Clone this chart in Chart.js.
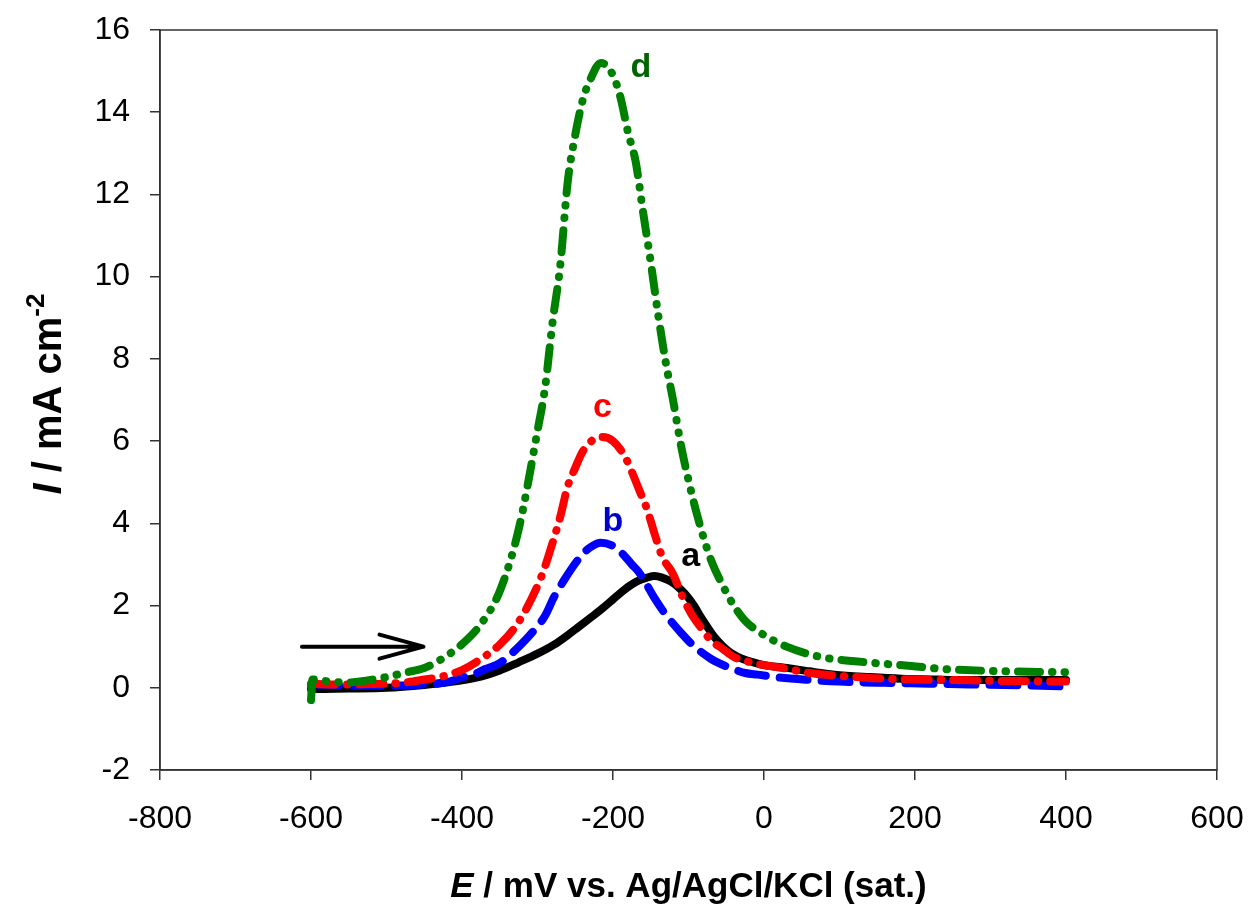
<!DOCTYPE html>
<html>
<head>
<meta charset="utf-8">
<script src="https://cdn.jsdelivr.net/npm/chart.js@4/dist/chart.umd.min.js"></script>
<style>
html,body{margin:0;padding:0;background:#fff;}
#wrap{width:1249px;height:910px;position:relative;}
</style>
</head>
<body>
<div id="wrap"><canvas id="c" width="1249" height="910"></canvas></div>
<script>
// ---- data (E / mV, I / mA cm^-2) ----
const aE = [-600,-550,-500,-450,-425,-400,-375,-350,-325,-300,-278,-260,-247,-230,-216,-200,-190,-178,-167,-155,-145,-135,-123,-112,-101,-92,-84,-75,-66,-55,-44,-31,-13,0,27,60,93,140,182,230,271,340,400];
const aI = [-0.03,-0.02,0.0,0.07,0.12,0.18,0.27,0.42,0.62,0.83,1.05,1.28,1.46,1.7,1.9,2.15,2.31,2.48,2.6,2.68,2.72,2.68,2.58,2.42,2.21,1.98,1.73,1.48,1.24,1.02,0.85,0.72,0.61,0.55,0.49,0.4,0.32,0.26,0.22,0.2,0.19,0.19,0.19];

const bE = [-600,-550,-500,-450,-425,-410,-400,-385,-370,-350,-322,-300,-290,-278,-263,-243,-230,-216,-200,-190,-175,-166,-155,-146,-133,-120,-110,-95,-84,-70,-61,-40,-25,-8,20,62,100,159,220,271,340,400];
const bI = [0.08,0.06,0.05,0.08,0.12,0.19,0.25,0.32,0.45,0.6,1.05,1.5,1.75,2.21,2.67,3.19,3.42,3.53,3.45,3.31,3.0,2.82,2.5,2.21,1.85,1.55,1.34,1.05,0.88,0.7,0.61,0.45,0.36,0.32,0.25,0.19,0.15,0.12,0.1,0.08,0.06,0.03];

const cE = [-600,-575,-550,-525,-500,-475,-450,-425,-400,-375,-350,-325,-300,-290,-280,-270,-260,-250,-240,-225,-214,-200,-185,-175,-165,-155,-145,-135,-120,-110,-97,-85,-70,-55,-40,-20,0,25,60,100,140,200,250,300,350,400];
const cI = [0.1,0.08,0.08,0.09,0.1,0.13,0.2,0.28,0.43,0.7,1.05,1.6,2.48,2.95,3.53,4.15,4.9,5.35,5.75,6.05,6.1,6.0,5.65,5.25,4.8,4.35,3.75,3.2,2.75,2.3,1.82,1.5,1.15,0.95,0.75,0.63,0.55,0.48,0.36,0.29,0.24,0.2,0.19,0.17,0.16,0.15];

const dE = [-600,-598,-575,-550,-525,-500,-475,-450,-425,-400,-375,-350,-325,-300,-290,-280,-270,-260,-250,-240,-230,-216,-200,-190,-180,-170,-160,-150,-140,-130,-120,-110,-100,-90,-80,-70,-55,-40,-25,-5,30,75,130,195,235,300,350,400];
const dI = [-0.3,0.2,0.15,0.13,0.18,0.26,0.37,0.48,0.72,1.06,1.55,2.35,3.85,6.25,7.3,8.9,10.25,12.3,13.45,14.3,14.8,15.2,14.9,14.35,13.5,12.8,11.55,10.35,9.05,7.9,6.95,5.9,5.05,4.3,3.65,3.1,2.5,2.0,1.63,1.34,1.0,0.75,0.63,0.53,0.46,0.41,0.39,0.38];

const xTicks = [-800,-600,-400,-200,0,200,400,600];
const yTicks = [-2,0,2,4,6,8,10,12,14,16];

const curveLabels = ["a","b","c","d"];
const labelE = [-97,-200,-214,-163];
const labelI = [3.19,4.04,6.81,15.08];
const curveColors = ["#000000","#0000ff","#ff0000","#008000"];
const labelColors = ["#000000","#0000cc","#ff0000","#006400"];

const arrowE = [-612,-451];
const arrowI = [1.0,1.0];

const FONT = "'Liberation Sans', Arial, sans-serif";

function pts(xs, ys){ return xs.map((x,i)=>({x:x,y:ys[i]})); }

const overlay = {
  id:'overlay',
  afterDraw(chart){
    const ctx = chart.ctx, xs = chart.scales.x, ys = chart.scales.y, ca = chart.chartArea;
    ctx.save();
    // frame box
    ctx.strokeStyle = '#333';
    ctx.lineWidth = 1.5;
    ctx.strokeRect(ca.left, ca.top, ca.right-ca.left, ca.bottom-ca.top);
    // curve letters
    ctx.font = "bold 34px " + FONT;
    ctx.textAlign = 'center';
    ctx.textBaseline = 'middle';
    curveLabels.forEach((t,i)=>{
      ctx.fillStyle = labelColors[i];
      ctx.fillText(t, xs.getPixelForValue(labelE[i]), ys.getPixelForValue(labelI[i]));
    });
    // arrow
    const x0 = xs.getPixelForValue(arrowE[0]), x1 = xs.getPixelForValue(arrowE[1]);
    const y0 = ys.getPixelForValue(arrowI[0]), y1 = ys.getPixelForValue(arrowI[1]);
    ctx.strokeStyle = '#000';
    ctx.lineWidth = 4;
    ctx.lineCap = 'round';
    ctx.lineJoin = 'round';
    ctx.beginPath();
    ctx.moveTo(x0,y0); ctx.lineTo(x1,y1);
    ctx.moveTo(x1-44,y1-12); ctx.lineTo(x1,y1); ctx.lineTo(x1-44,y1+12);
    ctx.stroke();
    // x axis title
    ctx.fillStyle = '#000';
    ctx.textBaseline = 'alphabetic';
    ctx.textAlign = 'left';
    const runsX = [["italic bold 35px "+FONT,"E"],["bold 35px "+FONT," / mV vs. Ag/AgCl/KCl (sat.)"]];
    let total = 0;
    runsX.forEach(r=>{ctx.font=r[0]; total += ctx.measureText(r[1]).width;});
    let cx = (ca.left+ca.right)/2 - total/2;
    const by = 897;
    runsX.forEach(r=>{ctx.font=r[0]; ctx.fillText(r[1], cx, by); cx += ctx.measureText(r[1]).width;});
    // y axis title (rotated)
    ctx.translate(61, 394);
    ctx.rotate(-Math.PI/2);
    const runsY = [["italic bold 40px "+FONT,"I",0],["bold 40px "+FONT," / mA cm",0],["bold 26px "+FONT,"-2",-17]];
    total = 0;
    runsY.forEach(r=>{ctx.font=r[0]; total += ctx.measureText(r[1]).width;});
    cx = -total/2;
    runsY.forEach(r=>{ctx.font=r[0]; ctx.fillText(r[1], cx, r[2]); cx += ctx.measureText(r[1]).width;});
    ctx.restore();
  }
};

function ds(label, xs, ys, color, dash, width){
  return {
    label: label,
    data: pts(xs, ys),
    showLine: true,
    borderColor: color,
    backgroundColor: color,
    borderWidth: width,
    borderDash: dash,
    borderCapStyle: 'round',
    borderJoinStyle: 'round',
    pointRadius: 0,
    cubicInterpolationMode: 'monotone',
    fill: false
  };
}

new Chart(document.getElementById('c'), {
  type: 'scatter',
  data: {
    datasets: [
      ds('d', dE, dI, curveColors[3], [22,12,0.5,12,0.5,12], 8),
      ds('c', cE, cI, curveColors[2], [24,12,0.5,12], 8),
      ds('b', bE, bI, curveColors[1], [28,14], 8),
      ds('a', aE, aI, curveColors[0], [], 8)
    ]
  },
  options: {
    responsive: false,
    animation: false,
    layout: { padding: { left: 0, right: 32, top: 30, bottom: 0 } },
    plugins: { legend: { display: false }, tooltip: { enabled: false } },
    scales: {
      x: {
        type: 'linear',
        min: -800, max: 600,
        afterBuildTicks: s => { s.ticks = xTicks.map(v=>({value:v})); },
        afterFit: s => { s.height = 140; s.paddingLeft = 0; s.paddingRight = 0; },
        border: { display: true, color: '#333', width: 1.5 },
        grid: { display: true, drawOnChartArea: false, drawTicks: true, tickLength: 10, color: '#333', lineWidth: 1.5 },
        ticks: { color: '#000', font: { family: FONT, size: 32 }, padding: 20, maxRotation: 0 }
      },
      y: {
        type: 'linear',
        min: -2, max: 16,
        afterBuildTicks: s => { s.ticks = yTicks.map(v=>({value:v})); },
        afterFit: s => { s.width = 160; s.paddingTop = 0; s.paddingBottom = 0; },
        border: { display: true, color: '#333', width: 1.5 },
        grid: { display: true, drawOnChartArea: false, drawTicks: true, tickLength: 10, color: '#333', lineWidth: 1.5 },
        ticks: { color: '#000', font: { family: FONT, size: 32 }, padding: 20 }
      }
    }
  },
  plugins: [overlay]
});
</script>
</body>
</html>
